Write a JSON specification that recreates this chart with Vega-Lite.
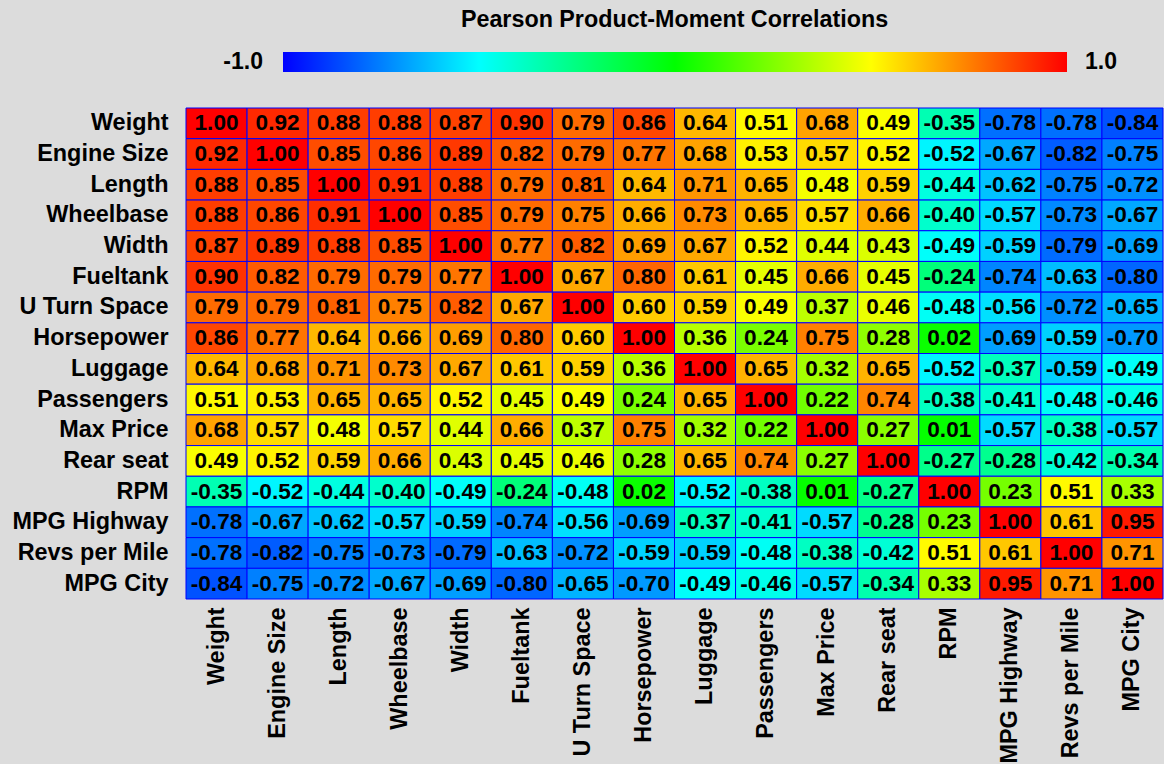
{
  "$schema": "https://vega.github.io/schema/vega-lite/v6.json",
  "autosize": {"type": "none"},
  "padding": {"left": 186, "top": 108, "right": 1, "bottom": 165},
  "width": 977,
  "height": 491,
  "background": "#dcdcdc",
  "title": {"text": "Pearson Product-Moment Correlations", "font": "Liberation Sans", "fontSize": 23.3, "fontWeight": "bold", "color": "#000000", "anchor": "middle", "offset": 20},
  "config": {"view": {"stroke": null}, "locale": {"number": {"decimal": ".", "thousands": ",", "grouping": [3], "currency": ["$", ""], "minus": "-"}}, "axis": {"labelFont": "Liberation Sans", "labelFontWeight": "bold", "labelColor": "#000000", "ticks": false, "domain": false, "grid": false, "title": null}},
  "data": {"values": [
{"row":"Weight","col":"Weight","r":1.00},{"row":"Weight","col":"Engine Size","r":0.92},{"row":"Weight","col":"Length","r":0.88},{"row":"Weight","col":"Wheelbase","r":0.88},{"row":"Weight","col":"Width","r":0.87},{"row":"Weight","col":"Fueltank","r":0.90},{"row":"Weight","col":"U Turn Space","r":0.79},{"row":"Weight","col":"Horsepower","r":0.86},{"row":"Weight","col":"Luggage","r":0.64},{"row":"Weight","col":"Passengers","r":0.51},{"row":"Weight","col":"Max Price","r":0.68},{"row":"Weight","col":"Rear seat","r":0.49},{"row":"Weight","col":"RPM","r":-0.35},{"row":"Weight","col":"MPG Highway","r":-0.78},{"row":"Weight","col":"Revs per Mile","r":-0.78},{"row":"Weight","col":"MPG City","r":-0.84},
{"row":"Engine Size","col":"Weight","r":0.92},{"row":"Engine Size","col":"Engine Size","r":1.00},{"row":"Engine Size","col":"Length","r":0.85},{"row":"Engine Size","col":"Wheelbase","r":0.86},{"row":"Engine Size","col":"Width","r":0.89},{"row":"Engine Size","col":"Fueltank","r":0.82},{"row":"Engine Size","col":"U Turn Space","r":0.79},{"row":"Engine Size","col":"Horsepower","r":0.77},{"row":"Engine Size","col":"Luggage","r":0.68},{"row":"Engine Size","col":"Passengers","r":0.53},{"row":"Engine Size","col":"Max Price","r":0.57},{"row":"Engine Size","col":"Rear seat","r":0.52},{"row":"Engine Size","col":"RPM","r":-0.52},{"row":"Engine Size","col":"MPG Highway","r":-0.67},{"row":"Engine Size","col":"Revs per Mile","r":-0.82},{"row":"Engine Size","col":"MPG City","r":-0.75},
{"row":"Length","col":"Weight","r":0.88},{"row":"Length","col":"Engine Size","r":0.85},{"row":"Length","col":"Length","r":1.00},{"row":"Length","col":"Wheelbase","r":0.91},{"row":"Length","col":"Width","r":0.88},{"row":"Length","col":"Fueltank","r":0.79},{"row":"Length","col":"U Turn Space","r":0.81},{"row":"Length","col":"Horsepower","r":0.64},{"row":"Length","col":"Luggage","r":0.71},{"row":"Length","col":"Passengers","r":0.65},{"row":"Length","col":"Max Price","r":0.48},{"row":"Length","col":"Rear seat","r":0.59},{"row":"Length","col":"RPM","r":-0.44},{"row":"Length","col":"MPG Highway","r":-0.62},{"row":"Length","col":"Revs per Mile","r":-0.75},{"row":"Length","col":"MPG City","r":-0.72},
{"row":"Wheelbase","col":"Weight","r":0.88},{"row":"Wheelbase","col":"Engine Size","r":0.86},{"row":"Wheelbase","col":"Length","r":0.91},{"row":"Wheelbase","col":"Wheelbase","r":1.00},{"row":"Wheelbase","col":"Width","r":0.85},{"row":"Wheelbase","col":"Fueltank","r":0.79},{"row":"Wheelbase","col":"U Turn Space","r":0.75},{"row":"Wheelbase","col":"Horsepower","r":0.66},{"row":"Wheelbase","col":"Luggage","r":0.73},{"row":"Wheelbase","col":"Passengers","r":0.65},{"row":"Wheelbase","col":"Max Price","r":0.57},{"row":"Wheelbase","col":"Rear seat","r":0.66},{"row":"Wheelbase","col":"RPM","r":-0.40},{"row":"Wheelbase","col":"MPG Highway","r":-0.57},{"row":"Wheelbase","col":"Revs per Mile","r":-0.73},{"row":"Wheelbase","col":"MPG City","r":-0.67},
{"row":"Width","col":"Weight","r":0.87},{"row":"Width","col":"Engine Size","r":0.89},{"row":"Width","col":"Length","r":0.88},{"row":"Width","col":"Wheelbase","r":0.85},{"row":"Width","col":"Width","r":1.00},{"row":"Width","col":"Fueltank","r":0.77},{"row":"Width","col":"U Turn Space","r":0.82},{"row":"Width","col":"Horsepower","r":0.69},{"row":"Width","col":"Luggage","r":0.67},{"row":"Width","col":"Passengers","r":0.52},{"row":"Width","col":"Max Price","r":0.44},{"row":"Width","col":"Rear seat","r":0.43},{"row":"Width","col":"RPM","r":-0.49},{"row":"Width","col":"MPG Highway","r":-0.59},{"row":"Width","col":"Revs per Mile","r":-0.79},{"row":"Width","col":"MPG City","r":-0.69},
{"row":"Fueltank","col":"Weight","r":0.90},{"row":"Fueltank","col":"Engine Size","r":0.82},{"row":"Fueltank","col":"Length","r":0.79},{"row":"Fueltank","col":"Wheelbase","r":0.79},{"row":"Fueltank","col":"Width","r":0.77},{"row":"Fueltank","col":"Fueltank","r":1.00},{"row":"Fueltank","col":"U Turn Space","r":0.67},{"row":"Fueltank","col":"Horsepower","r":0.80},{"row":"Fueltank","col":"Luggage","r":0.61},{"row":"Fueltank","col":"Passengers","r":0.45},{"row":"Fueltank","col":"Max Price","r":0.66},{"row":"Fueltank","col":"Rear seat","r":0.45},{"row":"Fueltank","col":"RPM","r":-0.24},{"row":"Fueltank","col":"MPG Highway","r":-0.74},{"row":"Fueltank","col":"Revs per Mile","r":-0.63},{"row":"Fueltank","col":"MPG City","r":-0.80},
{"row":"U Turn Space","col":"Weight","r":0.79},{"row":"U Turn Space","col":"Engine Size","r":0.79},{"row":"U Turn Space","col":"Length","r":0.81},{"row":"U Turn Space","col":"Wheelbase","r":0.75},{"row":"U Turn Space","col":"Width","r":0.82},{"row":"U Turn Space","col":"Fueltank","r":0.67},{"row":"U Turn Space","col":"U Turn Space","r":1.00},{"row":"U Turn Space","col":"Horsepower","r":0.60},{"row":"U Turn Space","col":"Luggage","r":0.59},{"row":"U Turn Space","col":"Passengers","r":0.49},{"row":"U Turn Space","col":"Max Price","r":0.37},{"row":"U Turn Space","col":"Rear seat","r":0.46},{"row":"U Turn Space","col":"RPM","r":-0.48},{"row":"U Turn Space","col":"MPG Highway","r":-0.56},{"row":"U Turn Space","col":"Revs per Mile","r":-0.72},{"row":"U Turn Space","col":"MPG City","r":-0.65},
{"row":"Horsepower","col":"Weight","r":0.86},{"row":"Horsepower","col":"Engine Size","r":0.77},{"row":"Horsepower","col":"Length","r":0.64},{"row":"Horsepower","col":"Wheelbase","r":0.66},{"row":"Horsepower","col":"Width","r":0.69},{"row":"Horsepower","col":"Fueltank","r":0.80},{"row":"Horsepower","col":"U Turn Space","r":0.60},{"row":"Horsepower","col":"Horsepower","r":1.00},{"row":"Horsepower","col":"Luggage","r":0.36},{"row":"Horsepower","col":"Passengers","r":0.24},{"row":"Horsepower","col":"Max Price","r":0.75},{"row":"Horsepower","col":"Rear seat","r":0.28},{"row":"Horsepower","col":"RPM","r":0.02},{"row":"Horsepower","col":"MPG Highway","r":-0.69},{"row":"Horsepower","col":"Revs per Mile","r":-0.59},{"row":"Horsepower","col":"MPG City","r":-0.70},
{"row":"Luggage","col":"Weight","r":0.64},{"row":"Luggage","col":"Engine Size","r":0.68},{"row":"Luggage","col":"Length","r":0.71},{"row":"Luggage","col":"Wheelbase","r":0.73},{"row":"Luggage","col":"Width","r":0.67},{"row":"Luggage","col":"Fueltank","r":0.61},{"row":"Luggage","col":"U Turn Space","r":0.59},{"row":"Luggage","col":"Horsepower","r":0.36},{"row":"Luggage","col":"Luggage","r":1.00},{"row":"Luggage","col":"Passengers","r":0.65},{"row":"Luggage","col":"Max Price","r":0.32},{"row":"Luggage","col":"Rear seat","r":0.65},{"row":"Luggage","col":"RPM","r":-0.52},{"row":"Luggage","col":"MPG Highway","r":-0.37},{"row":"Luggage","col":"Revs per Mile","r":-0.59},{"row":"Luggage","col":"MPG City","r":-0.49},
{"row":"Passengers","col":"Weight","r":0.51},{"row":"Passengers","col":"Engine Size","r":0.53},{"row":"Passengers","col":"Length","r":0.65},{"row":"Passengers","col":"Wheelbase","r":0.65},{"row":"Passengers","col":"Width","r":0.52},{"row":"Passengers","col":"Fueltank","r":0.45},{"row":"Passengers","col":"U Turn Space","r":0.49},{"row":"Passengers","col":"Horsepower","r":0.24},{"row":"Passengers","col":"Luggage","r":0.65},{"row":"Passengers","col":"Passengers","r":1.00},{"row":"Passengers","col":"Max Price","r":0.22},{"row":"Passengers","col":"Rear seat","r":0.74},{"row":"Passengers","col":"RPM","r":-0.38},{"row":"Passengers","col":"MPG Highway","r":-0.41},{"row":"Passengers","col":"Revs per Mile","r":-0.48},{"row":"Passengers","col":"MPG City","r":-0.46},
{"row":"Max Price","col":"Weight","r":0.68},{"row":"Max Price","col":"Engine Size","r":0.57},{"row":"Max Price","col":"Length","r":0.48},{"row":"Max Price","col":"Wheelbase","r":0.57},{"row":"Max Price","col":"Width","r":0.44},{"row":"Max Price","col":"Fueltank","r":0.66},{"row":"Max Price","col":"U Turn Space","r":0.37},{"row":"Max Price","col":"Horsepower","r":0.75},{"row":"Max Price","col":"Luggage","r":0.32},{"row":"Max Price","col":"Passengers","r":0.22},{"row":"Max Price","col":"Max Price","r":1.00},{"row":"Max Price","col":"Rear seat","r":0.27},{"row":"Max Price","col":"RPM","r":0.01},{"row":"Max Price","col":"MPG Highway","r":-0.57},{"row":"Max Price","col":"Revs per Mile","r":-0.38},{"row":"Max Price","col":"MPG City","r":-0.57},
{"row":"Rear seat","col":"Weight","r":0.49},{"row":"Rear seat","col":"Engine Size","r":0.52},{"row":"Rear seat","col":"Length","r":0.59},{"row":"Rear seat","col":"Wheelbase","r":0.66},{"row":"Rear seat","col":"Width","r":0.43},{"row":"Rear seat","col":"Fueltank","r":0.45},{"row":"Rear seat","col":"U Turn Space","r":0.46},{"row":"Rear seat","col":"Horsepower","r":0.28},{"row":"Rear seat","col":"Luggage","r":0.65},{"row":"Rear seat","col":"Passengers","r":0.74},{"row":"Rear seat","col":"Max Price","r":0.27},{"row":"Rear seat","col":"Rear seat","r":1.00},{"row":"Rear seat","col":"RPM","r":-0.27},{"row":"Rear seat","col":"MPG Highway","r":-0.28},{"row":"Rear seat","col":"Revs per Mile","r":-0.42},{"row":"Rear seat","col":"MPG City","r":-0.34},
{"row":"RPM","col":"Weight","r":-0.35},{"row":"RPM","col":"Engine Size","r":-0.52},{"row":"RPM","col":"Length","r":-0.44},{"row":"RPM","col":"Wheelbase","r":-0.40},{"row":"RPM","col":"Width","r":-0.49},{"row":"RPM","col":"Fueltank","r":-0.24},{"row":"RPM","col":"U Turn Space","r":-0.48},{"row":"RPM","col":"Horsepower","r":0.02},{"row":"RPM","col":"Luggage","r":-0.52},{"row":"RPM","col":"Passengers","r":-0.38},{"row":"RPM","col":"Max Price","r":0.01},{"row":"RPM","col":"Rear seat","r":-0.27},{"row":"RPM","col":"RPM","r":1.00},{"row":"RPM","col":"MPG Highway","r":0.23},{"row":"RPM","col":"Revs per Mile","r":0.51},{"row":"RPM","col":"MPG City","r":0.33},
{"row":"MPG Highway","col":"Weight","r":-0.78},{"row":"MPG Highway","col":"Engine Size","r":-0.67},{"row":"MPG Highway","col":"Length","r":-0.62},{"row":"MPG Highway","col":"Wheelbase","r":-0.57},{"row":"MPG Highway","col":"Width","r":-0.59},{"row":"MPG Highway","col":"Fueltank","r":-0.74},{"row":"MPG Highway","col":"U Turn Space","r":-0.56},{"row":"MPG Highway","col":"Horsepower","r":-0.69},{"row":"MPG Highway","col":"Luggage","r":-0.37},{"row":"MPG Highway","col":"Passengers","r":-0.41},{"row":"MPG Highway","col":"Max Price","r":-0.57},{"row":"MPG Highway","col":"Rear seat","r":-0.28},{"row":"MPG Highway","col":"RPM","r":0.23},{"row":"MPG Highway","col":"MPG Highway","r":1.00},{"row":"MPG Highway","col":"Revs per Mile","r":0.61},{"row":"MPG Highway","col":"MPG City","r":0.95},
{"row":"Revs per Mile","col":"Weight","r":-0.78},{"row":"Revs per Mile","col":"Engine Size","r":-0.82},{"row":"Revs per Mile","col":"Length","r":-0.75},{"row":"Revs per Mile","col":"Wheelbase","r":-0.73},{"row":"Revs per Mile","col":"Width","r":-0.79},{"row":"Revs per Mile","col":"Fueltank","r":-0.63},{"row":"Revs per Mile","col":"U Turn Space","r":-0.72},{"row":"Revs per Mile","col":"Horsepower","r":-0.59},{"row":"Revs per Mile","col":"Luggage","r":-0.59},{"row":"Revs per Mile","col":"Passengers","r":-0.48},{"row":"Revs per Mile","col":"Max Price","r":-0.38},{"row":"Revs per Mile","col":"Rear seat","r":-0.42},{"row":"Revs per Mile","col":"RPM","r":0.51},{"row":"Revs per Mile","col":"MPG Highway","r":0.61},{"row":"Revs per Mile","col":"Revs per Mile","r":1.00},{"row":"Revs per Mile","col":"MPG City","r":0.71},
{"row":"MPG City","col":"Weight","r":-0.84},{"row":"MPG City","col":"Engine Size","r":-0.75},{"row":"MPG City","col":"Length","r":-0.72},{"row":"MPG City","col":"Wheelbase","r":-0.67},{"row":"MPG City","col":"Width","r":-0.69},{"row":"MPG City","col":"Fueltank","r":-0.80},{"row":"MPG City","col":"U Turn Space","r":-0.65},{"row":"MPG City","col":"Horsepower","r":-0.70},{"row":"MPG City","col":"Luggage","r":-0.49},{"row":"MPG City","col":"Passengers","r":-0.46},{"row":"MPG City","col":"Max Price","r":-0.57},{"row":"MPG City","col":"Rear seat","r":-0.34},{"row":"MPG City","col":"RPM","r":0.33},{"row":"MPG City","col":"MPG Highway","r":0.95},{"row":"MPG City","col":"Revs per Mile","r":0.71},{"row":"MPG City","col":"MPG City","r":1.00}
  ]},
  "encoding": {
    "x": {"field": "col", "type": "nominal", "sort": ["Weight","Engine Size","Length","Wheelbase","Width","Fueltank","U Turn Space","Horsepower","Luggage","Passengers","Max Price","Rear seat","RPM","MPG Highway","Revs per Mile","MPG City"], "scale": {"paddingInner": 0, "paddingOuter": 0}, "axis": {"orient": "bottom", "labelAngle": -90, "labelAlign": "right", "labelBaseline": "middle", "labelPadding": 8, "labelFontSize": 23.4}},
    "y": {"field": "row", "type": "nominal", "sort": ["Weight","Engine Size","Length","Wheelbase","Width","Fueltank","U Turn Space","Horsepower","Luggage","Passengers","Max Price","Rear seat","RPM","MPG Highway","Revs per Mile","MPG City"], "scale": {"paddingInner": 0, "paddingOuter": 0}, "axis": {"labelPadding": 18, "labelFontSize": 23.4}}
  },
  "layer": [
    {"mark": {"type": "rect", "stroke": "#0000ff", "strokeWidth": 1},
     "encoding": {"color": {"field": "r", "type": "quantitative",
       "scale": {"domain": [-1, -0.5, 0, 0.5, 1], "range": ["#0000ff", "#00ffff", "#00ff00", "#ffff00", "#ff0000"], "interpolate": "rgb"},
       "legend": {"orient": "none", "direction": "horizontal", "legendX": 97, "legendY": -56, "title": null, "padding": 0,
         "gradientLength": 784, "gradientThickness": 20, "gradientStrokeWidth": 0,
         "values": [-1, 1], "format": ".1f", "labelFont": "Liberation Sans", "labelFontSize": 23, "labelFontWeight": "bold", "labelColor": "#000000",
         "encode": {"labels": {"update": {
           "align": {"signal": "datum.value < 0 ? 'right' : 'left'"},
           "baseline": {"value": "middle"},
           "y": {"value": 10},
           "dx": {"signal": "datum.value < 0 ? -20 : 18"}
         }}}}}}},
    {"mark": {"type": "text", "font": "Liberation Sans", "fontWeight": "bold", "fontSize": 22.6, "color": "#000000"},
     "encoding": {"text": {"field": "r", "type": "quantitative", "format": ".2f"}}}
  ]
}
